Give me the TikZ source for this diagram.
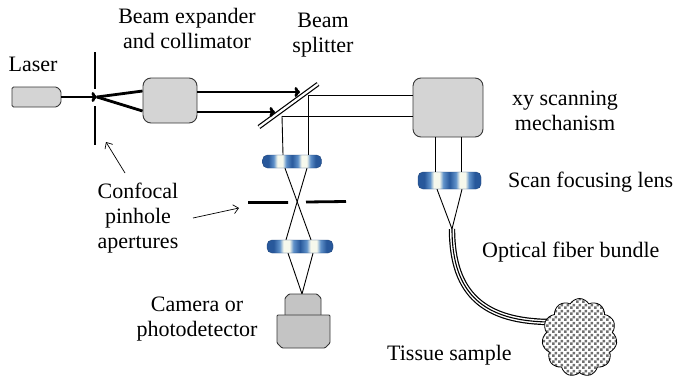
\documentclass[tikz,border=0pt]{standalone}
\usepackage{fontspec}
\setmainfont{Liberation Serif}
\usetikzlibrary{arrows.meta,shapes.symbols,patterns.meta,calc}

\definecolor{boxgray}{RGB}{212,212,212}
\definecolor{camgray}{RGB}{196,196,196}
\definecolor{edgegray}{RGB}{55,55,55}
\definecolor{lensdark}{RGB}{40,88,155}
\definecolor{lensmid}{RGB}{96,146,202}
\definecolor{lenslite}{RGB}{246,248,236}
\definecolor{tissuegray}{RGB}{112,112,112}

% blue lens seen edge-on, with two bright reflections
\pgfdeclarehorizontalshading{lensshade}{100bp}{%
  color(0bp)=(lensdark); color(30bp)=(lensdark); color(34.5bp)=(lensmid);
  color(37.5bp)=(lenslite); color(42bp)=(lenslite); color(45bp)=(lensmid);
  color(50bp)=(lensdark); color(55bp)=(lensmid); color(58bp)=(lenslite);
  color(62.5bp)=(lenslite); color(65.5bp)=(lensmid); color(70bp)=(lensdark);
  color(100bp)=(lensdark)}

% checkered texture of the tissue
\tikzdeclarepattern{
  name=tissuecheck, type=uncolored,
  bottom left={(0pt,0pt)}, top right={(6pt,6pt)}, tile size={(6pt,6pt)},
  code={\fill (0pt,0pt) rectangle (3pt,3pt); \fill (3pt,3pt) rectangle (6pt,6pt);}}

\tikzset{
  txt/.style={font=\fontsize{22}{25}\selectfont, inner sep=0pt, align=center},
  box/.style={draw=edgegray, fill=boxgray, line width=0.9pt, rounded corners=8pt, inner sep=0pt},
  lens/.style={shading=lensshade, draw=lensdark!80!black, line width=0.4pt, rounded corners=5pt, inner sep=0pt},
  beam/.style={line width=2.8pt},
  ray/.style={line width=0.9pt},
  aperture/.style={line width=2.8pt},
  beamhead/.style={-{To[length=5.5pt,width=10pt]}},
  note/.style={line width=0.7pt, -{Straight Barb[length=5pt,width=9pt]}},
  fiber/.style={line cap=butt},
}

\begin{document}
\begin{tikzpicture}[x=1pt,y=-1pt]
\useasboundingbox (0,0) rectangle (682,386);

% ---- laser source and first pinhole
\draw[draw=edgegray, fill=boxgray, line width=0.9pt, rounded corners=1.5pt]
  (12,87) -- (57,87) -- (61,91) -- (61,103) -- (57,107) -- (12,107) -- cycle;
\coordinate (laserout) at (61,97);
\coordinate (focusA) at (97,97);
\draw[aperture] (95,52) -- (95,89) (95,106) -- (95,145);
\draw[beam, beamhead] (laserout) -- (focusA);

% ---- beam expander / collimator
\node[box, minimum width=54, minimum height=45] (expander) at (170,100.5) {};
\draw[beam] (focusA) -- (expander.west |- 0,91);
\draw[beam] (focusA) -- (expander.west |- 0,111);

% ---- beam splitter
\coordinate (bsA) at (259,127);
\coordinate (bsB) at (318,84);
\draw[line width=1.2pt, double=white, double distance=2.2pt] (bsA) -- (bsB);
\coordinate (hitA) at (308,95);
\coordinate (hitB) at (282,116);
\draw[beam, beamhead] (expander.east |- 0,92) -- (300,92);
\draw[beam, beamhead] (expander.east |- 0,112) -- (275,112);

% ---- xy scanner
\node[box, minimum width=70, minimum height=59] (scanner) at (448,107.5) {};
\draw[ray] (hitA) -- (scanner.west |- hitA);
\draw[ray] (hitB) -- (scanner.west |- hitB);

% ---- detection arm
\node[lens, minimum width=59, minimum height=13] (lensA) at (292,161.5) {};
\node[lens, minimum width=66, minimum height=13] (lensB) at (300,246.5) {};
\draw[ray] (hitA) -- (hitA |- lensA.north);
\draw[ray] (hitB) -- (283,0 |- lensA.north);
\draw[ray] (285,0 |- lensA.south) -- (311,0 |- lensB.north);
\draw[ray] (307,0 |- lensA.south) -- (286,0 |- lensB.north);
\draw[aperture] (248,202.5) -- (288,202.5) (306,202) -- (346,201.5);
\coordinate (camin) at (302,294);
\draw[ray] (288,0 |- lensB.south) -- (camin);
\draw[ray] (313,0 |- lensB.south) -- (camin);

% camera body
\draw[draw=edgegray, fill=camgray, line width=0.9pt, rounded corners=1pt]
  (285,318) -- (285,298) -- (289,294) -- (317,294) -- (321,298) -- (321,318);
\draw[draw=edgegray, fill=camgray, line width=0.9pt, rounded corners=1pt]
  (277,315) -- (330,315) -- (330,343) -- (325,348) -- (282,348) -- (277,343) -- cycle;

% ---- scanning arm
\node[lens, minimum width=63, minimum height=17] (lensC) at (449.5,180.5) {};
\draw[ray] (435,0 |- scanner.south) -- (435,0 |- lensC.north);
\draw[ray] (461,0 |- scanner.south) -- (461,0 |- lensC.north);
\coordinate (fiberin) at (452,229);
\draw[ray] (437,0 |- lensC.south) -- (fiberin);
\draw[ray] (462,0 |- lensC.south) -- (fiberin);

% optical fiber bundle
\coordinate (fiberout) at (552,322);
\draw[fiber, line width=6.4pt] (fiberin) .. controls (452,295) and (485,322) .. (fiberout);
\draw[fiber, line width=4pt, white] (fiberin) .. controls (452,295) and (485,322) .. (fiberout);
\draw[fiber, line width=1.1pt] (fiberin) .. controls (452,295) and (485,322) .. (fiberout);

% tissue
\node[cloud, cloud puffs=11, cloud puff arc=120, aspect=0.95, draw=black, line width=0.8pt,
      preaction={fill=white}, pattern=tissuecheck, pattern color=tissuegray,
      minimum width=75, minimum height=78, inner sep=0pt] (tissue) at (579.5,337.5) {};

% ---- labels
\node[txt, anchor=base] (tLaser) at (33,71) {Laser};
\node[txt, anchor=base] (tExp) at (187,48) {Beam expander\\and collimator};
\node[txt, anchor=base] (tSplit) at (323,52) {Beam\\splitter};
\node[txt, anchor=base] (tScan) at (565,130) {xy scanning\\mechanism};
\node[txt, anchor=base west] (tFocus) at (508,187) {Scan focusing lens};
\node[txt, anchor=base west] (tFiber) at (482,257) {Optical fiber bundle};
\node[txt, anchor=base west] (tTissue) at (387,360) {Tissue sample};
\node[txt, anchor=base] (tPin) at (138,248) {Confocal\\pinhole\\apertures};
\node[txt, anchor=base] (tCam) at (197,336) {Camera or\\photodetector};

% pointers to the pinholes
\coordinate (pinAtip) at (106,142);
\coordinate (pinBtip) at (239,208);
\draw[note] (125,173) -- (pinAtip);
\draw[note] (193,218) -- (pinBtip);
\end{tikzpicture}
\end{document}
